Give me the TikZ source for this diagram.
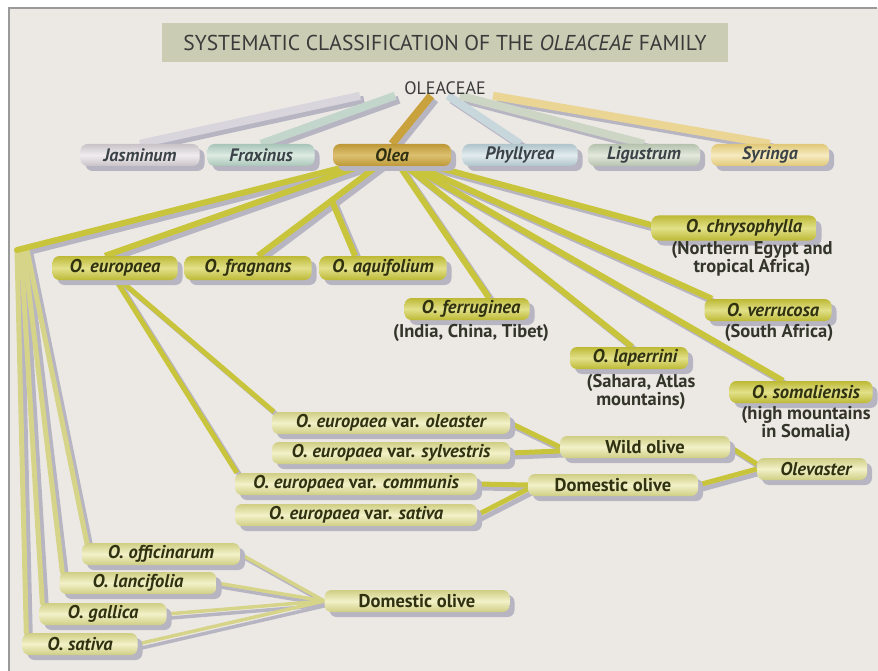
\documentclass[tikz,border=0pt]{standalone}
\usepackage{fontspec}
\setmainfont{PT Sans}
\usetikzlibrary{shadows,calc}
\definecolor{bgc}{HTML}{ECE9E5}
\definecolor{framec}{HTML}{9A9A9A}
\definecolor{titlec}{HTML}{CACCB4}
\definecolor{ttxt}{HTML}{3A3A3A}
\definecolor{shadc}{HTML}{B8B5C3}
\definecolor{lnA}{HTML}{C8C53C}
\definecolor{lnB}{HTML}{D6D488}
\definecolor{spA}{HTML}{BDB935}
\definecolor{spB}{HTML}{E2E18A}
\definecolor{vaA}{HTML}{CFCE84}
\definecolor{vaB}{HTML}{F2F1C8}
\definecolor{txtc}{HTML}{2F3110}
\definecolor{subc}{HTML}{34352A}
\definecolor{jasA}{HTML}{C9C3C8}\definecolor{jasB}{HTML}{F0ECEE}
\definecolor{fraA}{HTML}{A9C5B8}\definecolor{fraB}{HTML}{DDEBE3}
\definecolor{oleA}{HTML}{BE9836}\definecolor{oleB}{HTML}{DCC070}
\definecolor{phyA}{HTML}{AFC4CB}\definecolor{phyB}{HTML}{E2ECEF}
\definecolor{ligA}{HTML}{B7C2AE}\definecolor{ligB}{HTML}{E3E9DD}
\definecolor{syrA}{HTML}{E0C878}\definecolor{syrB}{HTML}{F6EBC0}
\definecolor{gtxt}{HTML}{3B4348}
\definecolor{lJas}{HTML}{D9D5DD}
\definecolor{lFra}{HTML}{C3D6CB}
\definecolor{lOle}{HTML}{C9A23E}
\definecolor{lPhy}{HTML}{C8D7DC}
\definecolor{lLig}{HTML}{CDD6C5}
\definecolor{lSyr}{HTML}{EAD594}
\pgfdeclarelayer{bgl}\pgfdeclarelayer{shad}\pgfdeclarelayer{conn}
\pgfsetlayers{bgl,shad,conn,main}
\newcommand\conx[2]{%
 \begin{pgfonlayer}{shad}\draw[#1,draw=shadc,transform canvas={xshift=4pt,yshift=-4pt}] #2;\end{pgfonlayer}%
 \begin{pgfonlayer}{conn}\draw[#1] #2;\end{pgfonlayer}}
\tikzset{
 pill/.style={rounded corners=7pt, minimum height=22pt, inner sep=0pt,
   drop shadow={shadow xshift=5pt,shadow yshift=-5pt,fill=shadc,opacity=1},
   font=\fontsize{18.5}{19}\selectfont\bfseries\itshape, text=txtc},
 spc/.style={pill, top color=spA, bottom color=spA, middle color=spB},
 vari/.style={pill, top color=vaA, bottom color=vaA, middle color=vaB},
 gen/.style 2 args={pill, top color=#1, bottom color=#1, middle color=#2, text=gtxt, font=\fontsize{18}{19}\selectfont\bfseries\itshape},
 upr/.style={font=\fontsize{18.5}{19}\selectfont\bfseries},
 subt/.style={font=\fontsize{18.5}{18}\selectfont\bfseries, text=subc, align=center, inner sep=0pt},
 genl/.style={line width=8pt},
 mainl/.style={line width=6pt, draw=lnA},
 varl/.style={line width=5pt, draw=lnA},
 palel/.style={line width=5pt, draw=lnB, line cap=round},
 thinl/.style={line width=3.5pt, draw=lnB}
}
\begin{document}
\begin{tikzpicture}[x=1pt,y=-1pt]
\useasboundingbox (0,0) rectangle (878,671);
\begin{pgfonlayer}{bgl}
\fill[white] (0,0) rectangle (878,671);
\fill[bgc] (9,8) rectangle (878,671);
\draw[framec,line width=1.6pt] (9,671) -- (9,8) -- (877,8);
\end{pgfonlayer}

% title
\node[fill=titlec, minimum width=566pt, minimum height=39pt, inner sep=0pt,
  font=\fontsize{21.5}{24}\selectfont, text=ttxt] (title) at (445,43)
  {SYSTEMATIC CLASSIFICATION OF THE \textit{OLEACEAE} FAMILY};
\node[font=\fontsize{18}{20}\selectfont, text=ttxt, inner sep=1pt] (olec) at (445,88) {OLEACEAE};

% genera
\node[gen={jasA}{jasB}, minimum width=119pt] (jas) at (140,155) {Jasminum};
\node[gen={fraA}{fraB}, minimum width=107pt] (frax) at (261,155) {Fraxinus};
\node[gen={oleA}{oleB}, minimum width=118pt, text=txtc] (olea) at (392,155) {Olea};
\node[gen={phyA}{phyB}, minimum width=115pt] (phyl) at (520,155) {Phyllyrea};
\node[gen={ligA}{ligB}, minimum width=112pt] (lig) at (644,155) {Ligustrum};
\node[gen={syrA}{syrB}, minimum width=118pt] (syr) at (770,155) {Syringa};

% species
\node[spc, minimum width=125pt, minimum height=24pt] (eur) at (115,268) {O. europaea};
\node[spc, minimum width=127pt, minimum height=24pt] (frag) at (248,268) {O. fragnans};
\node[spc, minimum width=127pt, minimum height=24pt] (aqui) at (383,268) {O. aquifolium};
\node[spc, minimum width=125pt] (ferr) at (467,309) {\hspace*{8pt}O. ferruginea};
\node[subt] (ferrs) at (471,333) {(India, China, Tibet)};
\node[spc, minimum width=165pt, minimum height=25pt] (chry) at (734,228) {\hspace*{20pt}O. chrysophylla};
\node[subt] (chrys) at (752,259) {(Northern Egypt and\\tropical Africa)};
\node[spc, minimum width=127pt] (verr) at (768,310) {\hspace*{10pt}O. verrucosa};
\node[subt] (verrs) at (779,333) {(South Africa)};
\node[spc, minimum width=118pt] (lap) at (629,358) {\hspace*{12pt}O. laperrini};
\node[subt] (laps) at (641,392) {(Sahara, Atlas\\mountains)};
\node[spc, minimum width=143pt] (som) at (801,392) {\hspace*{10pt}O. somaliensis};
\node[subt] (soms) at (806,424) {(high mountains\\in Somalia)};

% varieties
\node[vari, minimum width=238pt] (olst) at (391,423) {O. europaea \textup{var.} oleaster};
\node[vari, minimum width=238pt] (sylv) at (391,453) {O. europaea \textup{var.} sylvestris};
\node[vari, minimum width=242pt] (comm) at (356,484) {O. europaea \textup{var.} communis};
\node[vari, minimum width=242pt] (vsat) at (356,515) {O. europaea \textup{var.} sativa};
\node[vari, upr, minimum width=170pt] (wild) at (645,447) {Wild olive};
\node[vari, upr, minimum width=170pt] (domm) at (613,485) {Domestic olive};
\node[vari, minimum width=110pt] (olev) at (812,469) {\hspace*{8pt}Olevaster};

\node[vari, minimum width=158pt] (offi) at (161,554) {O. officinarum};
\node[vari, minimum width=157pt] (lanc) at (138,583) {O. lancifolia};
\node[vari, minimum width=127pt] (gall) at (103,614) {O. gallica};
\node[vari, minimum width=115pt] (osat) at (80,644) {O. sativa};
\node[vari, upr, minimum width=185pt] (domb) at (417,601) {Domestic olive};

\coordinate (lc) at (17,250);

% connectors from OLEACEAE
\conx{genl,draw=lJas}{([xshift=-85pt]olec.south) -- (jas.north)}
\conx{genl,draw=lFra}{([xshift=-50pt]olec.south) -- (frax.north)}
\conx{genl,draw=lPhy}{([xshift=3pt]olec.south) -- (phyl.north)}
\conx{genl,draw=lLig}{([xshift=15pt]olec.south) -- (lig.north)}
\conx{genl,draw=lSyr}{([xshift=48pt]olec.south) -- (syr.north)}
\conx{genl,draw=lOle}{([xshift=-14pt]olec.south) -- (olea.north)}

% Olea fan
\conx{palel}{(lc) -- ([xshift=4pt]osat.north west)}
\conx{palel}{([xshift=4pt]lc) -- ([xshift=3pt]gall.north west)}
\conx{palel}{([xshift=7pt]lc) -- ([xshift=3pt]lanc.north west)}
\conx{palel}{([xshift=10pt]lc) -- ([xshift=5pt]offi.north west)}
\conx{mainl,line cap=round}{(olea.center) -- (lc)}
\conx{mainl}{(olea.center) -- ([xshift=-10pt]eur.north)}
\conx{mainl}{(olea.center) -- ([xshift=10pt]frag.north)}
\coordinate (aq) at ($(olea.center)!0.45!([xshift=10pt]frag.north)$);
\conx{mainl}{(aq) -- ([xshift=-28pt]aqui.north)}
\conx{mainl}{(olea.center) -- ([xshift=22pt]ferr.north)}
\conx{mainl}{(olea.center) -- ([xshift=3pt]lap.north)}
\conx{mainl}{(olea.center) -- ([xshift=-56pt]verr.north)}
\conx{mainl}{(olea.center) -- ([xshift=-18pt]som.north)}
\conx{mainl}{(olea.center) -- ([yshift=3pt]chry.west)}

% varieties
\conx{varl}{([xshift=5pt]eur.south) -- ([xshift=2pt]olst.north west)}
\conx{varl}{([xshift=1pt]eur.south) -- ([xshift=2pt]comm.north west)}
\conx{varl}{(olst.east) -- (wild.west)}
\conx{varl}{(sylv.east) -- ([yshift=-4pt]wild.west)}
\conx{varl}{(wild.east) -- ([yshift=5pt]olev.west)}
\conx{varl}{(comm.east) -- (domm.west)}
\conx{varl}{(vsat.east) -- ([yshift=-4pt]domm.west)}
\conx{varl}{(domm.east) -- (olev.west)}

% bottom domestic olive
\conx{thinl}{(offi.east) -- (domb.west)}
\conx{thinl}{(lanc.east) -- (domb.west)}
\conx{thinl}{(gall.east) -- (domb.west)}
\conx{thinl}{(osat.east) -- (domb.west)}
\end{tikzpicture}
\end{document}
